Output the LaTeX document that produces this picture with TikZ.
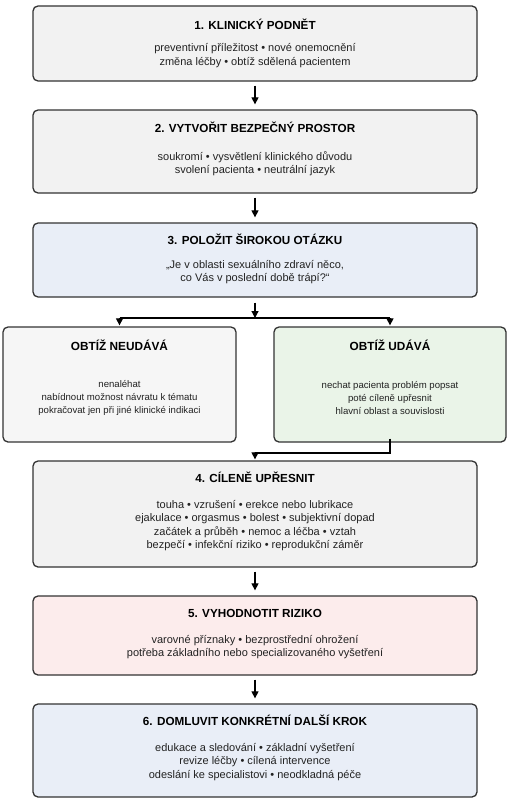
\documentclass[tikz,border=0pt]{standalone}
\usepackage{fontspec}
\setmainfont{Liberation Sans}
\usetikzlibrary{arrows.meta}
\definecolor{fgray}{HTML}{F2F2F2}
\definecolor{flight}{HTML}{F6F6F6}
\definecolor{fblue}{HTML}{E9EEF7}
\definecolor{fgreen}{HTML}{EAF4E8}
\definecolor{fpink}{HTML}{FCECEC}
\definecolor{bord}{HTML}{333333}
\definecolor{txt}{HTML}{222222}
\tikzset{
  box/.style={draw=bord, line width=1.3pt, rounded corners=5pt, inner sep=0pt},
  ttl/.style={font=\fontsize{11.7}{14}\selectfont\bfseries, text=black, inner sep=0pt},
  sidettl/.style={font=\fontsize{11.8}{14}\selectfont\bfseries, text=black, inner sep=0pt},
  body/.style={font=\fontsize{11}{13.4}\selectfont, text=txt, align=center, inner sep=0pt},
  sidebody/.style={font=\fontsize{9.6}{13}\selectfont, text=txt, align=center, inner sep=0pt},
  arr/.style={line width=1.2pt, -{Triangle[width=7pt,length=7pt]}},
  ln/.style={line width=1.2pt}
}
\begin{document}
\begin{tikzpicture}[x=1pt,y=-1pt]
\useasboundingbox (0,0) rectangle (509,800);
% boxes
\node[box, fill=fgray, minimum width=444pt, minimum height=75pt] (b1) at (255,43.5) {};
\node[box, fill=fgray, minimum width=444pt, minimum height=83pt] (b2) at (255,151.5) {};
\node[box, fill=fblue, minimum width=444pt, minimum height=74pt] (b3) at (255,260) {};
\node[box, fill=flight, minimum width=233pt, minimum height=115pt] (bl) at (119.5,384.5) {};
\node[box, fill=fgreen, minimum width=232pt, minimum height=115pt] (br) at (390,384.5) {};
\node[box, fill=fgray, minimum width=444pt, minimum height=106pt] (b4) at (255,514) {};
\node[box, fill=fpink, minimum width=444pt, minimum height=79pt] (b5) at (255,635.5) {};
\node[box, fill=fblue, minimum width=444pt, minimum height=93pt] (b6) at (255,750.5) {};
% titles
\node[ttl] (t1) at (255,24) {1. KLINICKÝ PODNĚT};
\node[ttl] (t2) at (255,127) {2. VYTVOŘIT BEZPEČNÝ PROSTOR};
\node[ttl] (t3) at (255,239) {3. POLOŽIT ŠIROKOU OTÁZKU};
\node[sidettl] (tl) at (119.5,345.5) {OBTÍŽ NEUDÁVÁ};
\node[sidettl] (tr) at (390,345.5) {OBTÍŽ UDÁVÁ};
\node[ttl] (t4) at (255,477) {4. CÍLENĚ UPŘESNIT};
\node[ttl] (t5) at (255,613) {5. VYHODNOTIT RIZIKO};
\node[ttl] (t6) at (255,720) {6. DOMLUVIT KONKRÉTNÍ DALŠÍ KROK};
% bodies
\node[body] (x1) at (255,55.5) {preventivní příležitost • nové onemocnění\\změna léčby • obtíž sdělená pacientem};
\node[body] (x2) at (255,164) {soukromí • vysvětlení klinického důvodu\\svolení pacienta • neutrální jazyk};
\node[body] (x3) at (255,272) {„Je v oblasti sexuálního zdraví něco,\\co Vás v poslední době trápí?“};
\node[sidebody] (xl) at (119.5,397.5) {nenaléhat\\nabídnout možnost návratu k tématu\\pokračovat jen při jiné klinické indikaci};
\node[sidebody] (xr) at (390,398.5) {nechat pacienta problém popsat\\poté cíleně upřesnit\\hlavní oblast a souvislosti};
\node[body] (x4) at (255,525.5) {touha • vzrušení • erekce nebo lubrikace\\ejakulace • orgasmus • bolest • subjektivní dopad\\začátek a průběh • nemoc a léčba • vztah\\bezpečí • infekční riziko • reprodukční záměr};
\node[body] (x5) at (255,647) {varovné příznaky • bezprostřední ohrožení\\potřeba základního nebo specializovaného vyšetření};
\node[body] (x6) at (255,762) {edukace a sledování • základní vyšetření\\revize léčby • cílená intervence\\odeslání ke specialistovi • neodkladná péče};
% connectors
\draw[arr, shorten <=4pt, shorten >=5pt] (b1.south) -- (b2.north);
\draw[arr, shorten <=4pt, shorten >=5pt] (b2.south) -- (b3.north);
\coordinate (jc) at (255,318);
\coordinate (jl) at (bl.north |- jc);
\coordinate (jr) at (br.north |- jc);
\draw[arr, shorten <=5pt] (b3.south) -- (jc);
\draw[ln] (jl) -- (jr);
\draw[arr, shorten >=1pt] (jl) -- (bl.north);
\draw[arr, shorten >=1pt] (jr) -- (br.north);
\coordinate (m1) at (br.south |- 0,453);
\coordinate (m2) at (b4.north |- 0,453);
\draw[arr, shorten >=1pt, rounded corners=0pt] ([yshift=4pt]br.south) -- (m1) -- (m2) -- (b4.north);
\draw[arr, shorten <=4pt, shorten >=5pt] (b4.south) -- (b5.north);
\draw[arr, shorten <=4pt, shorten >=5pt] (b5.south) -- (b6.north);
\end{tikzpicture}
\end{document}
